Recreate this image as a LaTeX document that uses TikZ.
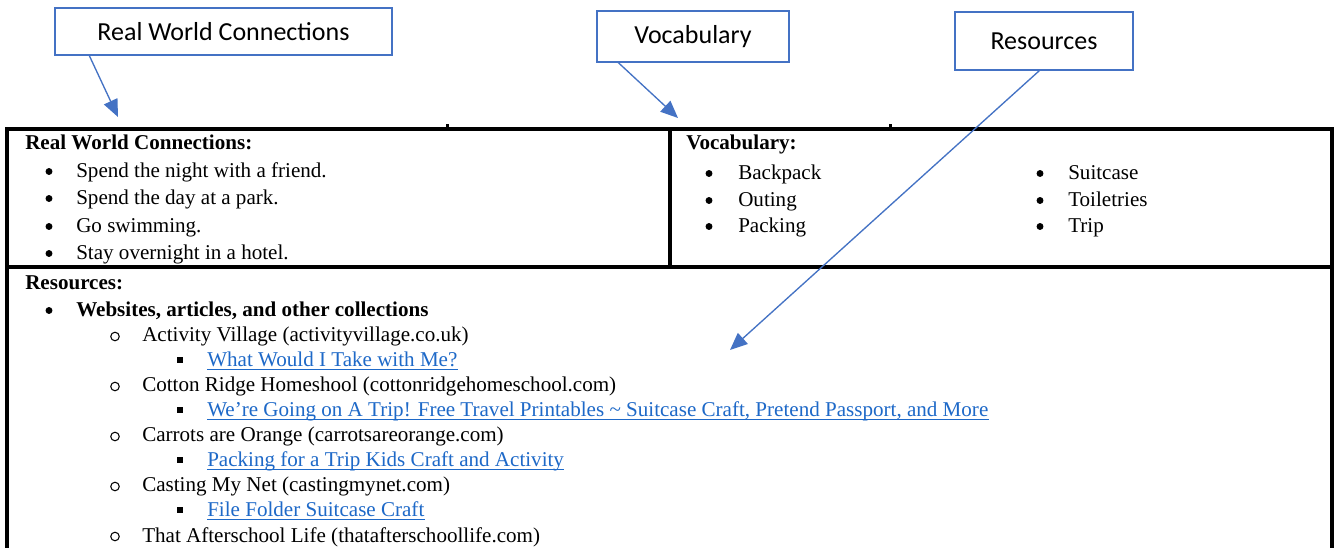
\documentclass[tikz,border=0pt]{standalone}
\usepackage{fontspec}
\setmainfont{Liberation Serif}
\newfontfamily\calibri{Carlito}
\usetikzlibrary{arrows.meta, positioning}
\definecolor{callblue}{HTML}{4472C4}
\definecolor{linkblue}{RGB}{30,105,200}

\begin{document}
\begin{tikzpicture}[x=0.75pt, y=-0.75pt,
    callout/.style={draw=callblue, line width=1pt, fill=white, inner sep=0pt, font=\calibri\fontsize{19.5}{22}\selectfont},
    callarrow/.style={draw=callblue, line width=1pt, -{Triangle[length=13pt, width=11pt]}},
    tableline/.style={draw=black, line width=2.6pt},
    txt/.style={anchor=base west, inner sep=0pt, font=\fontsize{15.8}{18}\selectfont},
    head/.style={anchor=base west, inner sep=0pt, font=\bfseries\fontsize{15.8}{18}\selectfont},
    dotmark/.style={circle, fill=black, inner sep=0pt, minimum size=5.2pt},
    ringmark/.style={circle, draw=black, line width=0.8pt, inner sep=0pt, minimum size=6.4pt},
    boxmark/.style={rectangle, fill=black, inner sep=0pt, minimum size=4.4pt},
    linkline/.style={draw=linkblue, line width=0.7pt}]
    \useasboundingbox (0,0) rectangle (1335,548);
    \fill[white] (0,0) rectangle (1335,548);

    % table frame
    \draw[tableline] (7,560) -- (7,129) -- (1332,129) -- (1332,560);
    \draw[tableline] (7,267) -- (1332,267);
    \draw[tableline] (670,129) -- (670,267);
    \fill (446,124) rectangle (449,128);
    \fill (889,124) rectangle (892,128);

    % real world connections cell
    \node[head] (rwchead) at (25,150) {Real World Connections:};
    \foreach \n/\y/\t in {1/178/{Spend the night with a friend.}, 2/205/{Spend the day at a park.},
                          3/233/{Go swimming.}, 4/260/{Stay overnight in a hotel.}}{
        \node[dotmark] (rwcdot\n) at (49,\y-6.5) {};
        \node[txt] (rwc\n) at (76,\y) {\t};
    }

    % vocabulary cell
    \node[head] (vochead) at (686,150) {Vocabulary:};
    \foreach \n/\y/\a/\b in {1/180/Backpack/Suitcase, 2/207/Outing/Toiletries, 3/233/Packing/Trip}{
        \node[dotmark] (vocdot\n) at (709,\y-6.5) {};
        \node[txt] (voc\n) at (738,\y) {\a};
        \node[dotmark] (vocdotb\n) at (1040,\y-6.5) {};
        \node[txt] (vocb\n) at (1068,\y) {\b};
    }

    % resources cell
    \node[head] (reshead) at (25,290) {Resources:};
    \node[dotmark] (webdot) at (49,310.5) {};
    \node[head] (web) at (76,317) {Websites, articles, and other collections};
    \foreach \n/\y/\t in {1/342/{Activity Village (activityvillage.co.uk)},
                          2/392/{Cotton Ridge Homeshool (cottonridgehomeschool.com)},
                          3/442/{Carrots are Orange (carrotsareorange.com)},
                          4/492/{Casting My Net (castingmynet.com)},
                          5/542/{That Afterschool Life (thatafterschoollife.com)}}{
        \node[ringmark] (sitering\n) at (115,\y-5.5) {};
        \node[txt] (site\n) at (142,\y) {\t};
    }
    \foreach \n/\y/\t in {1/367/{What Would I Take with Me?},
                          2/417/{We’re Going on A Trip! Free Travel Printables \textasciitilde{} Suitcase Craft, Pretend Passport, and More},
                          3/467/{Packing for a Trip Kids Craft and Activity},
                          4/517/{File Folder Suitcase Craft}}{
        \node[boxmark] (linkbox\n) at (180,\y-7) {};
        \node[txt, text=linkblue] (link\n) at (207,\y) {\t};
        \draw[linkline] ([yshift=-2pt]link\n.base west) -- ([yshift=-2pt]link\n.base east);
    }

    % callouts
    \node[callout, minimum width=252.75pt, minimum height=35.25pt] (rwcbox) at (223.5,31.5) {Real World Connections};
    \node[callout, minimum width=144pt, minimum height=38.25pt] (vocbox) at (693,36.5) {Vocabulary};
    \node[callout, minimum width=133.5pt, minimum height=43.5pt] (resbox) at (1044,41) {Resources};
    \coordinate (rwctip) at (118,117);
    \coordinate (voctip) at (678,118);
    \coordinate (restip) at (730,350);
    \draw[callarrow] ([xshift=26.25pt]rwcbox.south west) -- (rwctip);
    \draw[callarrow] ([xshift=16.5pt]vocbox.south west) -- (voctip);
    \draw[callarrow] ([xshift=63.75pt]resbox.south west) -- (restip);
\end{tikzpicture}
\end{document}
